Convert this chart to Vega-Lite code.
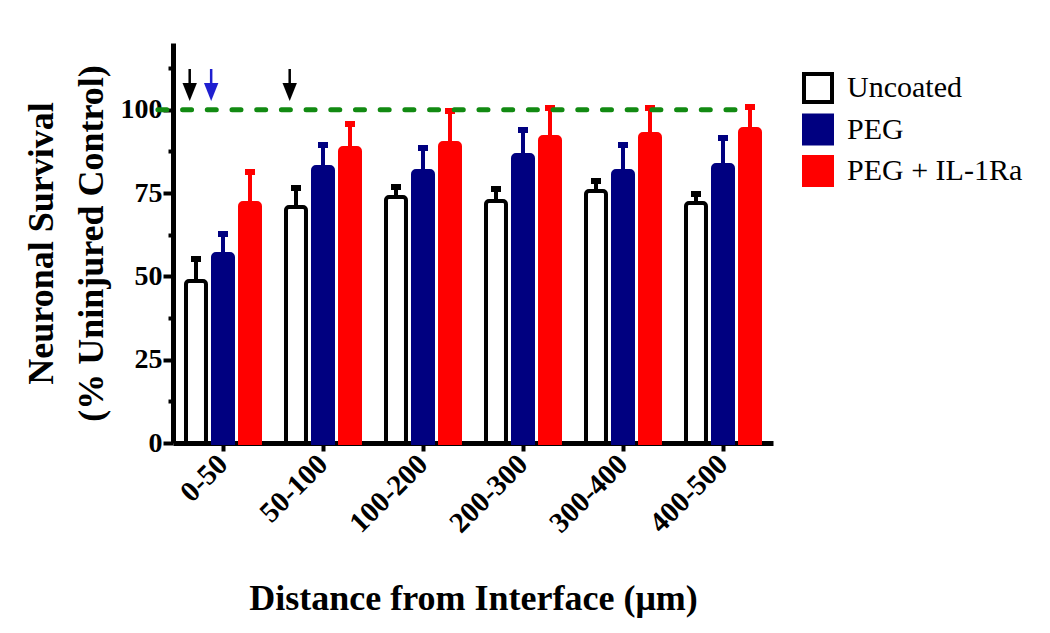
{
  "$schema": "https://vega.github.io/schema/vega-lite/v6.json",
  "width": 600,
  "height": 400,
  "autosize": {"type": "none"},
  "padding": {"left": 173, "top": 43, "right": 277, "bottom": 190},
  "background": "white",
  "config": {
    "view": {"stroke": null},
    "font": "Liberation Serif",
    "axis": {"grid": false, "domainColor": "black", "tickColor": "black", "labelColor": "black", "titleColor": "black"}
  },
  "datasets": {
    "bars": [
      {"group": "0-50", "series": "Uncoated", "mean": 48.6, "upper": 55.2},
      {"group": "0-50", "series": "PEG", "mean": 56.7, "upper": 62.7},
      {"group": "0-50", "series": "PEG + IL-1Ra", "mean": 72.0, "upper": 81.3},
      {"group": "50-100", "series": "Uncoated", "mean": 70.8, "upper": 76.5},
      {"group": "50-100", "series": "PEG", "mean": 82.8, "upper": 89.4},
      {"group": "50-100", "series": "PEG + IL-1Ra", "mean": 88.5, "upper": 95.7},
      {"group": "100-200", "series": "Uncoated", "mean": 73.8, "upper": 76.8},
      {"group": "100-200", "series": "PEG", "mean": 81.6, "upper": 88.5},
      {"group": "100-200", "series": "PEG + IL-1Ra", "mean": 90.0, "upper": 99.6},
      {"group": "200-300", "series": "Uncoated", "mean": 72.6, "upper": 76.2},
      {"group": "200-300", "series": "PEG", "mean": 86.4, "upper": 93.9},
      {"group": "200-300", "series": "PEG + IL-1Ra", "mean": 91.8, "upper": 100.5},
      {"group": "300-400", "series": "Uncoated", "mean": 75.6, "upper": 78.6},
      {"group": "300-400", "series": "PEG", "mean": 81.6, "upper": 89.4},
      {"group": "300-400", "series": "PEG + IL-1Ra", "mean": 92.7, "upper": 100.5},
      {"group": "400-500", "series": "Uncoated", "mean": 72.0, "upper": 74.7},
      {"group": "400-500", "series": "PEG", "mean": 83.4, "upper": 91.5},
      {"group": "400-500", "series": "PEG + IL-1Ra", "mean": 94.2, "upper": 100.8}
    ],
    "arrows": [
      {"group": "0-50", "kind": "black"},
      {"group": "50-100", "kind": "black"},
      {"group": "0-50", "kind": "blue"}
    ],
    "ref": [{"level": 100}]
  },
  "layer": [
    {
      "data": {"name": "bars"},
      "mark": {"type": "rule", "strokeWidth": 4, "opacity": 1},
      "encoding": {
        "x": {"field": "group", "type": "nominal", "sort": null},
        "xOffset": {"field": "series", "type": "nominal", "sort": ["Uncoated", "PEG", "PEG + IL-1Ra"]},
        "y": {"field": "mean", "type": "quantitative"},
        "y2": {"field": "upper"},
        "stroke": {"field": "series", "type": "nominal"}
      }
    },
    {
      "data": {"name": "bars"},
      "mark": {"type": "tick", "size": 5, "thickness": 1, "orient": "horizontal", "filled": false, "strokeWidth": 5, "opacity": 1},
      "encoding": {
        "x": {"field": "group", "type": "nominal", "sort": null},
        "xOffset": {"field": "series", "type": "nominal", "sort": ["Uncoated", "PEG", "PEG + IL-1Ra"]},
        "y": {"field": "upper", "type": "quantitative"},
        "stroke": {"field": "series", "type": "nominal"}
      }
    },
    {
      "data": {"name": "bars"},
      "mark": {"type": "bar", "strokeWidth": 4, "cornerRadiusTopLeft": 3, "cornerRadiusTopRight": 3, "opacity": 1},
      "encoding": {
        "x": {
          "field": "group", "type": "nominal", "sort": null,
          "scale": {"paddingInner": 0.26, "paddingOuter": 0.13},
          "axis": {
            "title": "Distance from Interface (μm)",
            "titleFont": "Liberation Serif", "titleFontSize": 36, "titleFontWeight": "bold",
            "titleX": 300, "titleY": 166, "titleBaseline": "alphabetic",
            "labelFont": "Liberation Serif", "labelFontSize": 29, "labelFontWeight": "bold",
            "labelAngle": -45, "labelAlign": "right", "labelBaseline": "middle", "labelPadding": 8,
            "domainWidth": 5, "tickWidth": 4, "tickSize": 8
          }
        },
        "xOffset": {"field": "series", "type": "nominal", "sort": ["Uncoated", "PEG", "PEG + IL-1Ra"],
          "scale": {"paddingInner": 0.26, "paddingOuter": 0}},
        "y": {
          "field": "mean", "type": "quantitative",
          "scale": {"domain": [0, 120], "nice": false},
          "axis": {
            "title": ["Neuronal Survival", "(% Uninjured Control)"],
            "titleFont": "Liberation Serif", "titleFontSize": 36, "titleFontWeight": "bold",
            "titleLineHeight": 50, "titleX": -121, "titleY": 200, "titleBaseline": "alphabetic", "titleAlign": "center", "titleAngle": -90,
            "values": [0, 12.5, 25, 37.5, 50, 62.5, 75, 87.5, 100, 112.5],
            "labelExpr": "datum.value % 25 === 0 ? datum.label : ''",
            "labelFont": "Liberation Serif", "labelFontSize": 28, "labelFontWeight": "bold", "labelPadding": 1,
            "domainWidth": 5, "tickWidth": 4,
            "tickSize": {"condition": {"test": "datum.value % 25 !== 0", "value": 5}, "value": 10}
          }
        },
        "fill": {"field": "series", "type": "nominal",
          "scale": {"domain": ["Uncoated", "PEG", "PEG + IL-1Ra"], "range": ["white", "#000080", "#ff0000"]},
          "legend": {
            "title": null, "orient": "none", "legendX": 629, "legendY": 29,
            "symbolType": "square", "symbolSize": 784, "symbolStrokeWidth": 4, "symbolOpacity": 1,
            "labelFont": "Liberation Serif", "labelFontSize": 30, "labelOffset": 13, "labelColor": "black", "labelLimit": 400,
            "rowPadding": -2.5
          }
        },
        "stroke": {"field": "series", "type": "nominal",
          "scale": {"domain": ["Uncoated", "PEG", "PEG + IL-1Ra"], "range": ["black", "#000080", "#ff0000"]},
          "legend": {
            "title": null, "orient": "none", "legendX": 629, "legendY": 29,
            "symbolType": "square", "symbolSize": 784, "symbolStrokeWidth": 4, "symbolOpacity": 1,
            "labelFont": "Liberation Serif", "labelFontSize": 30, "labelOffset": 13, "labelColor": "black", "labelLimit": 400,
            "rowPadding": -2.5
          }
        }
      }
    },
    {
      "data": {"name": "ref"},
      "mark": {"type": "rule", "color": "#128a12", "strokeWidth": 5, "strokeDash": [9, 15.7], "strokeCap": "round", "clip": false},
      "encoding": {
        "y": {"field": "level", "type": "quantitative"},
        "x": {"datum": "0-50", "bandPosition": -0.38},
        "x2": {"datum": "400-500", "bandPosition": 0.86}
      }
    },
    {
      "data": {"name": "arrows"},
      "transform": [{"filter": "datum.kind === 'black'"}],
      "layer": [
        {
          "mark": {"type": "rule", "color": "black", "strokeWidth": 2.5},
          "encoding": {
            "x": {"field": "group", "type": "nominal", "sort": null, "bandPosition": 0.05},
            "y": {"datum": 112.2},
            "y2": {"datum": 106.5}
          }
        },
        {
          "mark": {"type": "point", "shape": "M-0.8,-1L0.8,-1L0,1Z", "filled": true, "color": "black", "size": 324, "opacity": 1},
          "encoding": {
            "x": {"field": "group", "type": "nominal", "sort": null, "bandPosition": 0.05},
            "y": {"datum": 105.3}
          }
        }
      ]
    },
    {
      "data": {"name": "arrows"},
      "transform": [{"filter": "datum.kind === 'blue'"}],
      "layer": [
        {
          "mark": {"type": "rule", "color": "#1f1fd0", "strokeWidth": 2.5},
          "encoding": {
            "x": {"field": "group", "type": "nominal", "sort": null, "bandPosition": 0.34},
            "y": {"datum": 112.2},
            "y2": {"datum": 106.5}
          }
        },
        {
          "mark": {"type": "point", "shape": "M-0.8,-1L0.8,-1L0,1Z", "filled": true, "color": "#1f1fd0", "size": 324, "opacity": 1},
          "encoding": {
            "x": {"field": "group", "type": "nominal", "sort": null, "bandPosition": 0.34},
            "y": {"datum": 105.3}
          }
        }
      ]
    }
  ]
}
